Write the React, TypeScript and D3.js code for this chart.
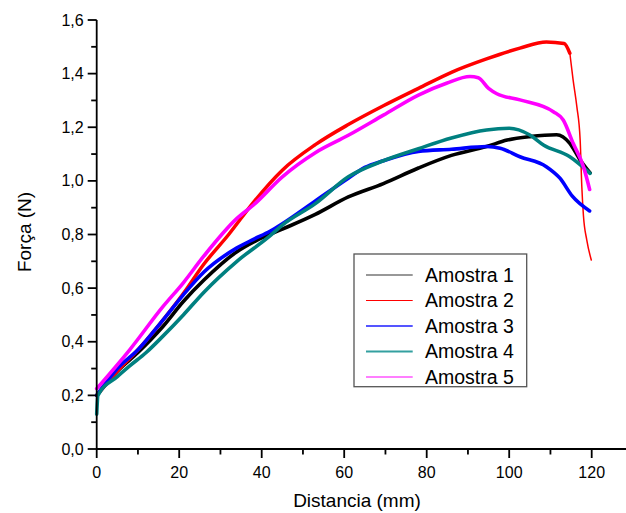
import React from "react";
import * as d3 from "d3";

const seriesNames = ["Amostra 1", "Amostra 2", "Amostra 3", "Amostra 4", "Amostra 5"];
const seriesColors = ["#000000", "#ff0000", "#0000ff", "#008080", "#ff00ff"];
const legendColors = ["#333333", "#ff0000", "#5555ff", "#33a0a0", "#ff00ff"];

const amostra1X = [0, 5, 10, 16, 21, 26, 34, 39, 45, 53, 61, 69.5, 78, 86, 94.5, 99.5, 105, 111.5, 114.7, 117.2, 119.6];
const amostra1Y = [0.2, 0.29, 0.36, 0.456, 0.55, 0.63, 0.736, 0.78, 0.82, 0.875, 0.94, 0.99, 1.048, 1.095, 1.128, 1.152, 1.165, 1.172, 1.14, 1.078, 1.03];

const amostra2X = [0, 5, 10, 16, 21, 26, 32, 38, 45, 53, 61, 69.5, 78, 86, 94.5, 102.6, 109, 113.3, 114.7, 115.5, 116.4, 117.2, 117.6, 118, 118.8, 119.9];
const amostra2Y = [0.2, 0.29, 0.37, 0.48, 0.58, 0.69, 0.8, 0.92, 1.04, 1.135, 1.21, 1.28, 1.345, 1.405, 1.455, 1.495, 1.518, 1.512, 1.476, 1.376, 1.277, 1.153, 0.98, 0.87, 0.78, 0.705];

const amostra3X = [0, 5, 10, 16, 21, 26, 34, 38, 42, 45, 53, 61, 65, 69.5, 78, 86, 94.5, 97.8, 102.6, 109, 112.3, 115.3, 119.5];
const amostra3Y = [0.2, 0.3, 0.37, 0.48, 0.575, 0.66, 0.75, 0.782, 0.812, 0.84, 0.925, 1.01, 1.05, 1.075, 1.11, 1.118, 1.128, 1.122, 1.09, 1.053, 1.01, 0.943, 0.888];

const amostra4X = [0, 0.3, 5, 8, 12, 16, 21, 26, 34, 42, 45, 53, 61, 69.5, 78, 86, 94.5, 100, 105, 108.3, 114.7, 119.6];
const amostra4Y = [0.13, 0.2, 0.27, 0.31, 0.36, 0.42, 0.5, 0.585, 0.7, 0.795, 0.835, 0.915, 1.015, 1.075, 1.12, 1.16, 1.19, 1.196, 1.171, 1.134, 1.09, 1.028];

const amostra5X = [0, 8, 16, 21, 26, 34, 38, 45, 53, 61, 69.5, 78, 84.8, 90.5, 92.5, 95, 97, 102.6, 110.7, 113.1, 115.5, 118, 119.5];
const amostra5Y = [0.225, 0.37, 0.53, 0.62, 0.72, 0.86, 0.91, 1.015, 1.105, 1.17, 1.245, 1.32, 1.364, 1.389, 1.385, 1.345, 1.325, 1.302, 1.258, 1.227, 1.14, 1.053, 0.968];

const seriesX = [amostra1X, amostra2X, amostra3X, amostra4X, amostra5X];
const seriesY = [amostra1Y, amostra2Y, amostra3Y, amostra4Y, amostra5Y];

const yMajorTicks = [0, 0.2, 0.4, 0.6, 0.8, 1.0, 1.2, 1.4, 1.6];
const yMinorTicks = [0.1, 0.3, 0.5, 0.7, 0.9, 1.1, 1.3, 1.5];
const xMajorTicks = [0, 20, 40, 60, 80, 100, 120];
const xMinorTicks = [10, 30, 50, 70, 90, 110, 130];

const FONT = "'Liberation Sans', Arial, sans-serif";

export default function App() {
  const W = 626;
  const H = 513;
  const x = d3.scaleLinear().domain([0, 130]).range([96.7, 96.7 + 536.25]);
  const y = d3.scaleLinear().domain([0, 1.6]).range([449, 20]);

  const line = d3
    .line<[number, number]>()
    .x((d) => x(d[0]))
    .y((d) => y(d[1]))
    .curve(d3.curveMonotoneX);

  const pts = seriesX.map((xs, i) => xs.map((v, j) => [v, seriesY[i][j]] as [number, number]));

  // red: noisy part thick, tail after the break thin
  const redBreak = 114.7;
  const redThick = pts[1].filter((p) => p[0] <= redBreak);
  const redThin = pts[1].filter((p) => p[0] >= redBreak);

  const fmt = (v: number) => v.toFixed(1).replace(".", ",");

  const legX = 354;
  const legY = 254;
  const legW = 172.7;
  const legH = 132.7;
  const rowY = [275, 300.5, 326, 351.5, 377];

  return (
    <div style={{ position: "absolute", left: 0, top: 0 }}>
      <svg width={W} height={H} style={{ display: "block", background: "#fff" }} fontFamily={FONT}>
        <rect x={0} y={0} width={W} height={H} fill="#fff" />
        {/* series */}
        <g fill="none" strokeLinejoin="round" strokeLinecap="round">
          {pts.map((p, i) =>
            i === 1 ? (
              <g key={i}>
                <path d={line(redThick) || ""} stroke={seriesColors[1]} strokeWidth={3.5} />
                <path d={line(redThin) || ""} stroke={seriesColors[1]} strokeWidth={1.5} />
              </g>
            ) : (
              <path key={i} d={line(p) || ""} stroke={seriesColors[i]} strokeWidth={3.6} />
            )
          )}
        </g>

        {/* axes */}
        <g stroke="#000" strokeWidth={1.8}>
          <line x1={x(0)} x2={x(0)} y1={y(1.6)} y2={y(0)} />
          <line x1={x(0)} x2={W + 20} y1={y(0)} y2={y(0)} />
          {yMajorTicks.map((t) => (
            <line key={"ym" + t} x1={x(0) - 9} x2={x(0)} y1={y(t)} y2={y(t)} />
          ))}
          {yMinorTicks.map((t) => (
            <line key={"yn" + t} x1={x(0) - 5.5} x2={x(0)} y1={y(t)} y2={y(t)} />
          ))}
          {xMajorTicks.map((t) => (
            <line key={"xm" + t} x1={x(t)} x2={x(t)} y1={y(0)} y2={y(0) + 9} />
          ))}
          {xMinorTicks.map((t) => (
            <line key={"xn" + t} x1={x(t)} x2={x(t)} y1={y(0)} y2={y(0) + 5.5} />
          ))}
        </g>
        <g fontSize={16} fill="#000">
          {yMajorTicks.map((t) => (
            <text key={"yl" + t} x={x(0) - 13} y={y(t)} dy="0.35em" textAnchor="end">
              {fmt(t)}
            </text>
          ))}
          {xMajorTicks.map((t) => (
            <text key={"xl" + t} x={x(t)} y={y(0) + 29} textAnchor="middle">
              {t}
            </text>
          ))}
        </g>
        <text x={357} y={507} fontSize={19} textAnchor="middle" fill="#000">
          Distancia (mm)
        </text>
        <text
          transform={`translate(31, ${232}) rotate(-90)`}
          fontSize={19}
          textAnchor="middle"
          fill="#000"
        >
          Força (N)
        </text>

        {/* legend */}
        <rect x={legX} y={legY} width={legW} height={legH} fill="#fff" stroke="#555" strokeWidth={1.3} />
        {seriesNames.map((n, i) => (
          <g key={n}>
            <line
              x1={366}
              x2={412.7}
              y1={rowY[i]}
              y2={rowY[i]}
              stroke={legendColors[i]}
              strokeWidth={i === 2 || i === 3 ? 1.8 : 1.2}
            />
            <text x={425} y={rowY[i]} dy="0.35em" fontSize={19.5} fill="#000">
              {n}
            </text>
          </g>
        ))}
      </svg>
    </div>
  );
}
